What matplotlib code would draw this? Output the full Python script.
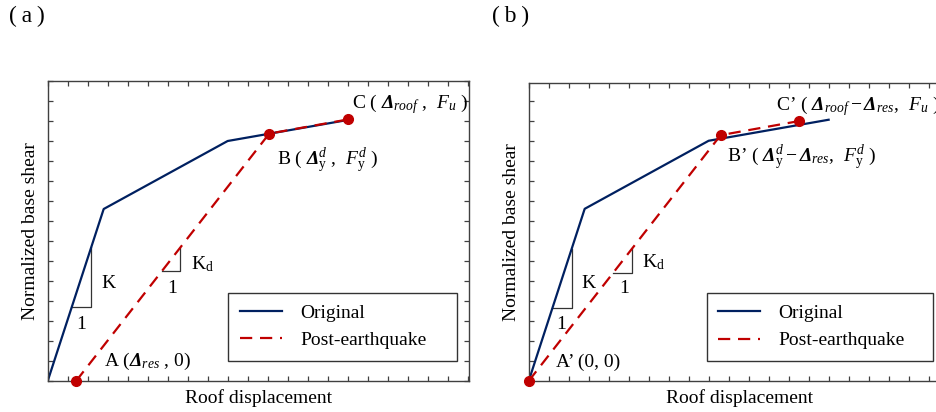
import matplotlib
matplotlib.use('Agg')
from matplotlib import pyplot as plt
from matplotlib.ticker import MultipleLocator

plt.rcParams['font.family'] = ['Liberation Serif', 'DejaVu Serif']
plt.rcParams['mathtext.fontset'] = 'custom'
plt.rcParams['mathtext.rm'] = 'Liberation Serif'
plt.rcParams['mathtext.it'] = 'Liberation Serif:italic'
plt.rcParams['mathtext.bf'] = 'Liberation Serif:bold'
plt.rcParams['mathtext.bfit'] = 'Liberation Serif:italic:bold'

# pushover curves (arbitrary units)
orig_x = [0, 2.8, 9.0, 15.0]
orig_y = [0, 8.6, 12.0, 13.05]

post_a_x = [1.42, 11.08, 15.03]
post_a_y = [0, 12.37, 13.08]

post_b_x = [0, 9.6, 13.5]
post_b_y = [0, 12.28, 12.98]

# slope triangles: x extents along the line
k_tri_a = [1.2, 2.18]
kd_tri_a = [5.73, 6.63]
k_tri_b = [1.18, 2.15]
kd_tri_b = [4.22, 5.15]

blue = '#002060'
red = '#C00000'
grey = '#404040'
fs = 14

fig = plt.figure(figsize=(9.36, 4.12), dpi=100)
ax_a = fig.add_axes([0.05096, 0.07524, 0.45011, 0.72816])
ax_b = fig.add_axes([0.56485, 0.07524, 0.45011, 0.72403])


def setup(ax, ymax):
    ax.set_xlim(0, 21.07)
    ax.set_ylim(0, ymax)
    ax.xaxis.set_major_locator(MultipleLocator(1))
    ax.yaxis.set_major_locator(MultipleLocator(1))
    ax.tick_params(direction='in', top=True, right=True, length=3.8, width=0.9,
                   color=grey, labelbottom=False, labelleft=False)
    for s in ax.spines.values():
        s.set_color(grey)
        s.set_linewidth(1.0)
    ax.set_xlabel('Roof displacement', fontsize=fs, labelpad=6)
    ax.set_ylabel('Normalized base shear', fontsize=fs, labelpad=6)


def triangle(ax, xs, slope, x0=0.0):
    x1, x2 = xs
    y1 = slope * (x1 - x0)
    y2 = slope * (x2 - x0)
    ax.plot([x1, x2, x2], [y1, y1, y2], color='#333333', lw=0.9, zorder=1)


def curves(ax, px, py, loc):
    ax.plot(orig_x, orig_y, color=blue, lw=1.6, label='Original', zorder=2)
    ax.plot(px, py, color=red, lw=1.6, ls=(0, (5.5, 3.5)), label='Post-earthquake',
            zorder=3, clip_on=False)
    ax.plot(px, py, 'o', color=red, ms=7, zorder=4, clip_on=False)
    leg = ax.legend(loc='lower left', bbox_to_anchor=loc, mode='expand',
                    borderaxespad=0, fontsize=fs, handlelength=2.15,
                    handletextpad=0.95, borderpad=0.6, labelspacing=0.5,
                    fancybox=False, framealpha=1)
    leg.get_frame().set_edgecolor('#333333')
    leg.get_frame().set_linewidth(1.0)


# (a)
setup(ax_a, 15)
curves(ax_a, post_a_x, post_a_y, (0.4287, 0.067, 0.5423, 0.233))
k_slope = orig_y[1] / orig_x[1]
kd_slope_a = post_a_y[1] / (post_a_x[1] - post_a_x[0])
triangle(ax_a, k_tri_a, k_slope)
triangle(ax_a, kd_tri_a, kd_slope_a, post_a_x[0])
ax_a.text(2.82, 0.77, r'A ($\mathbfit{\Delta}_{\mathit{res}}$ , 0)', fontsize=fs)
ax_a.text(11.45, 10.83, r'B ( $\mathbfit{\Delta}_{\mathrm{y}}^{\mathit{d}}$ ,  $\mathit{F}_{\mathrm{y}}^{\mathit{d}}$ )', fontsize=fs)
ax_a.text(15.2, 13.63, r'C ( $\mathbfit{\Delta}_{\mathit{roof}}$ ,  $\mathit{F}_{\mathit{u}}$ )', fontsize=fs)
ax_a.text(2.7, 4.63, 'K', fontsize=fs)
ax_a.text(1.45, 2.58, '1', fontsize=fs)
ax_a.text(7.15, 5.58, r'K$_{\mathrm{d}}$', fontsize=fs)
ax_a.text(6.0, 4.38, '1', fontsize=fs)

# (b)
setup(ax_b, 14.9)
curves(ax_b, post_b_x, post_b_y, (0.4225, 0.067, 0.5365, 0.232))
kd_slope_b = post_b_y[1] / post_b_x[1]
triangle(ax_b, k_tri_b, k_slope)
triangle(ax_b, kd_tri_b, kd_slope_b)
ax_b.text(1.37, 0.71, 'A\u2019 (0, 0)', fontsize=fs)
ax_b.text(9.92, 10.96, 'B\u2019' + r' ( $\mathbfit{\Delta}_{\mathrm{y}}^{\mathit{d}}-\mathbfit{\Delta}_{\mathit{res}}$,  $\mathit{F}_{\mathrm{y}}^{\mathit{d}}$ )', fontsize=fs)
ax_b.text(12.37, 13.54, 'C\u2019' + r' ( $\mathbfit{\Delta}_{\mathit{roof}}-\mathbfit{\Delta}_{\mathit{res}}$,  $\mathit{F}_{\mathit{u}}$ )', fontsize=fs, clip_on=False)
ax_b.text(2.65, 4.63, 'K', fontsize=fs)
ax_b.text(1.4, 2.58, '1', fontsize=fs)
ax_b.text(5.65, 5.66, r'K$_{\mathrm{d}}$', fontsize=fs)
ax_b.text(4.53, 4.38, '1', fontsize=fs)

fig.text(0.010, 0.985, '(\u2009a\u2009)', fontsize=17, va='top')
fig.text(0.526, 0.985, '(\u2009b\u2009)', fontsize=17, va='top')

fig.savefig('out.png', dpi=100)
